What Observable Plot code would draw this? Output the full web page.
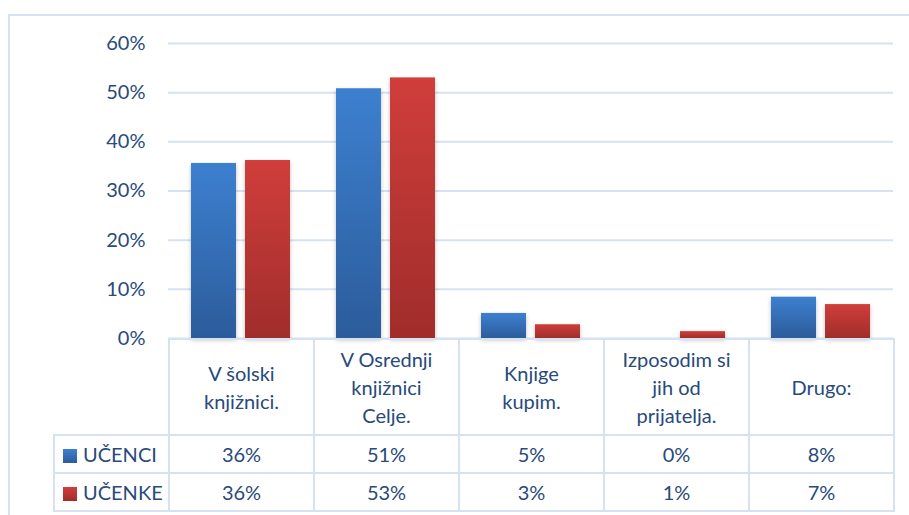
<!DOCTYPE html>
<html>
<head>
<meta charset="utf-8">
<script src="https://cdn.jsdelivr.net/npm/d3@7"></script>
<script src="https://cdn.jsdelivr.net/npm/@observablehq/plot@0.6"></script>
<style>
  html, body { margin: 0; padding: 0; background: #fff; }
  #wrap { position: relative; width: 909px; height: 515px; overflow: hidden; font-family: Lato, sans-serif; color: #284a7c; }
  #frame { position: absolute; left: 8px; top: 14px; width: 920px; height: 520px; border-left: 2px solid #d6e2f1; border-top: 2px solid #d6e2f1; box-sizing: border-box; }
  #chart { position: absolute; left: 0; top: 0; }
  table { position: absolute; left: 53px; top: 338px; border-collapse: collapse; table-layout: fixed; font-size: 20px; }
  td { border: 2px solid #d6e2f1; text-align: center; padding: 0; }
  td.blank { border: none; border-right: 2px solid #d6e2f1; }
  tr.head td { height: 94px; white-space: pre-line; line-height: 28px; vertical-align: middle; }
  tr.row td { height: 36px; }
  td.leg { text-align: left; padding-left: 8px; white-space: nowrap; }
  .sw { display: inline-block; width: 14px; height: 14px; margin-right: 6px; vertical-align: -1px; }
</style>
</head>
<body>
<div id="wrap">
  <div id="frame"></div>
  <div id="chart"></div>
  <table id="tbl"></table>
</div>
<script>
const categories = ["V šolski\nknjižnici.", "V Osrednji\nknjižnici\nCelje.", "Knjige\nkupim.", "Izposodim si\njih od\nprijatelja.", "Drugo:"];
const series = ["UČENCI", "UČENKE"];
const ucenci = [0.356, 0.508, 0.051, 0.0, 0.084];
const ucenke = [0.362, 0.530, 0.028, 0.014, 0.069];
const yTicks = [0, 0.1, 0.2, 0.3, 0.4, 0.5, 0.6];
const seriesValues = [ucenci, ucenke];
const gradIds = ["gBlue", "gRed"];

const data = categories.flatMap((c, i) => series.map((s, j) => ({cat: c, series: s, value: seriesValues[j][i]})));
const pct = d3.format(".0%");

const chart = Plot.plot({
  width: 909,
  height: 345,
  marginLeft: 168,
  marginRight: 16,
  marginTop: 43,
  marginBottom: 7,
  style: {fontFamily: "Lato, sans-serif", fontSize: "20px", color: "#284a7c", background: "transparent", overflow: "visible"},
  fx: {domain: categories, padding: 0, axis: null},
  x: {domain: series, paddingInner: 0.1636, paddingOuter: 0.4, axis: null},
  y: {domain: [0, 0.6], ticks: yTicks, tickFormat: pct, tickSize: 0, tickPadding: 23, label: null},
  color: {domain: series, range: gradIds.map(id => `url(#${id})`)},
  marks: [
    Plot.gridY(yTicks, {stroke: "#d6e2f1", strokeOpacity: 1, strokeWidth: 2}),
    Plot.barY(data, {fx: "cat", x: "series", y: "value", fill: "series", filter: d => d.value > 0})
  ]
});
chart.insertAdjacentHTML("afterbegin", `<defs>
  <linearGradient id="gBlue" x1="0" y1="0" x2="0" y2="1"><stop offset="0" stop-color="#3d80d0"/><stop offset="1" stop-color="#2c5c9b"/></linearGradient>
  <linearGradient id="gRed" x1="0" y1="0" x2="0" y2="1"><stop offset="0" stop-color="#d03e3b"/><stop offset="1" stop-color="#a02d2b"/></linearGradient>
</defs>`);
chart.querySelectorAll("g[aria-label='bar'] rect").forEach(r => r.setAttribute("style", "filter: drop-shadow(0px 2px 2px rgba(0,0,0,0.25))"));
document.getElementById("chart").appendChild(chart);

// data table
const tbl = document.getElementById("tbl");
const colg = document.createElement("colgroup");
colg.innerHTML = `<col style="width:115px">` + categories.map(() => `<col style="width:145px">`).join("");
tbl.appendChild(colg);
const head = document.createElement("tr");
head.className = "head";
head.innerHTML = `<td class="blank"></td>` + categories.map(c => `<td>${c}</td>`).join("");
tbl.appendChild(head);
series.forEach((s, j) => {
  const tr = document.createElement("tr");
  tr.className = "row";
  tr.innerHTML = `<td class="leg"><span class="sw" style="background:linear-gradient(#${j ? "d03e3b" : "3d80d0"},#${j ? "a02d2b" : "2c5c9b"})"></span>${s}</td>` +
    seriesValues[j].map(v => `<td>${pct(v)}</td>`).join("");
  tbl.appendChild(tr);
});
</script>
</body>
</html>
